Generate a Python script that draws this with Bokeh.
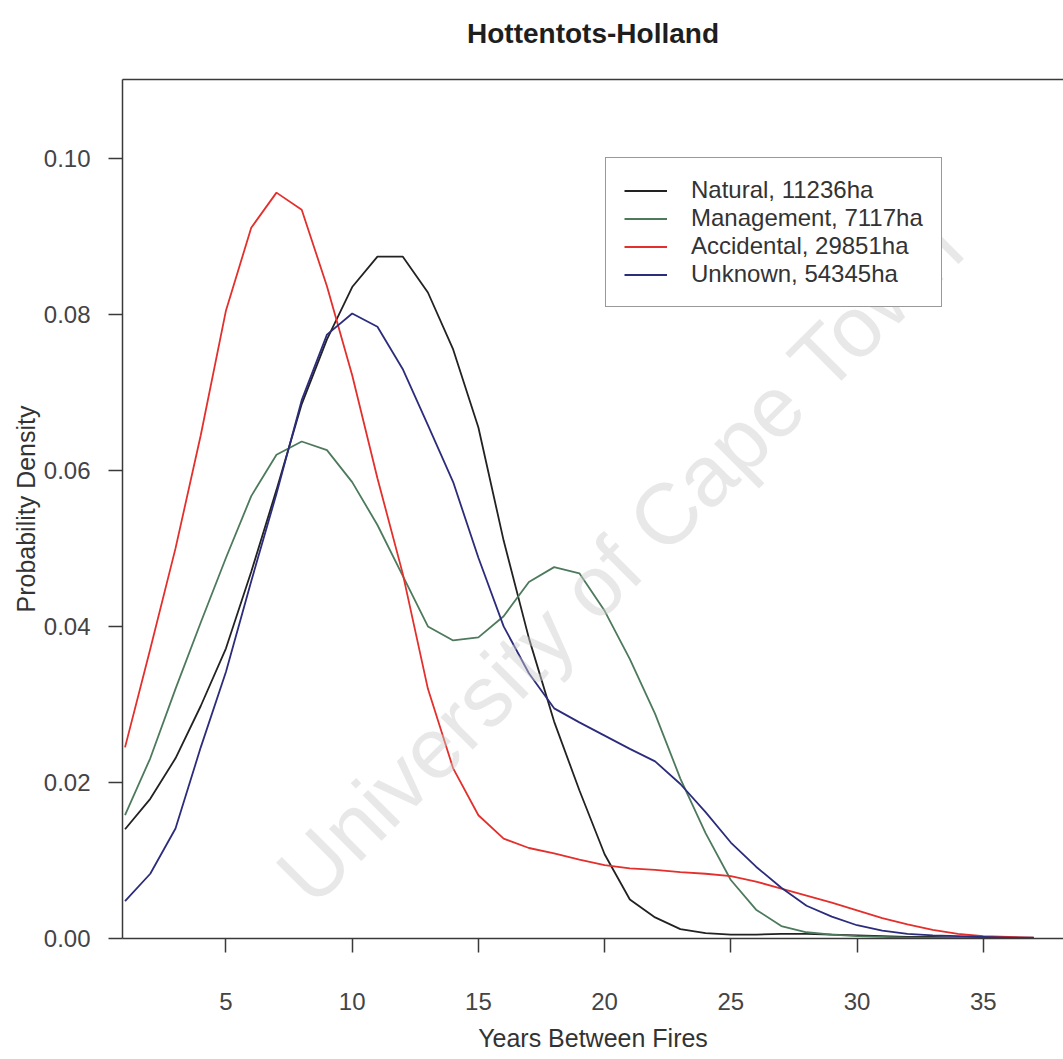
import math
from bokeh.plotting import figure
from bokeh.models import (Range1d, FixedTicker, PrintfTickFormatter, Legend,
                          LegendItem, LinearAxis, Label, Title)
from bokeh.embed import file_html
from bokeh.resources import INLINE

# ---------------- data ----------------
years = list(range(1, 38))

natural = [0.0140, 0.0179, 0.0231, 0.0298, 0.0372, 0.0470, 0.0575, 0.0685,
           0.0768, 0.0835, 0.0874, 0.0874, 0.0828, 0.0755, 0.0655, 0.0510,
           0.0385, 0.0278, 0.0190, 0.0108, 0.0050, 0.0027, 0.0012, 0.0007,
           0.0005, 0.0005, 0.0006, 0.0006, 0.0005, 0.0004, 0.0003, 0.0002,
           0.0002, 0.0001, 0.0001, 0.0000, 0.0000]

management = [0.0158, 0.0231, 0.0320, 0.0405, 0.0488, 0.0567, 0.0620, 0.0637,
              0.0626, 0.0585, 0.0530, 0.0465, 0.0400, 0.0382, 0.0386, 0.0413,
              0.0457, 0.0476, 0.0468, 0.0420, 0.0358, 0.0288, 0.0205, 0.0135,
              0.0075, 0.0037, 0.0016, 0.0008, 0.0005, 0.0003, 0.0002, 0.0001,
              0.0001, 0.0001, 0.0000, 0.0000, 0.0000]

accidental = [0.0245, 0.0371, 0.0500, 0.0645, 0.0805, 0.0911, 0.0956, 0.0934,
              0.0836, 0.0722, 0.0590, 0.0468, 0.0320, 0.0218, 0.0158, 0.0128,
              0.0116, 0.0109, 0.0101, 0.0094, 0.0090, 0.0088, 0.0085, 0.0083,
              0.0080, 0.0073, 0.0064, 0.0055, 0.0046, 0.0036, 0.0026, 0.0018,
              0.0011, 0.0006, 0.0003, 0.0002, 0.0001]

unknown = [0.0048, 0.0083, 0.0141, 0.0245, 0.0342, 0.0458, 0.0570, 0.0690,
           0.0774, 0.0801, 0.0784, 0.0730, 0.0658, 0.0585, 0.0488, 0.0400,
           0.0340, 0.0295, 0.0277, 0.0260, 0.0243, 0.0227, 0.0198, 0.0162,
           0.0123, 0.0092, 0.0065, 0.0042, 0.0028, 0.0017, 0.0010, 0.0006,
           0.0004, 0.0003, 0.0002, 0.0001, 0.0001]

series_labels = ["Natural, 11236ha", "Management, 7117ha",
                 "Accidental, 29851ha", "Unknown, 54345ha"]
series_colors = ["#222222", "#4d7a5c", "#e3302c", "#2c2c7c"]

x_ticks = [5, 10, 15, 20, 25, 30, 35]
y_ticks = [0.00, 0.02, 0.04, 0.06, 0.08, 0.10]

title_text = "Hottentots-Holland"
x_label = "Years Between Fires"
y_label = "Probability Density"
watermark = "University of Cape Town"

FONT = "Liberation Sans"

X0, X1 = 0.9, 38.18
Y0, Y1 = 0.0, 0.1101

# ---------------- figure ----------------
p = figure(width=1063, height=1059, output_backend="svg", toolbar_location=None,
           x_range=Range1d(X0, X1), y_range=Range1d(Y0, Y1),
           min_border_left=122, min_border_right=0, min_border_top=79,
           min_border_bottom=121, background_fill_color="white",
           border_fill_color="white")

p.xgrid.grid_line_color = None
p.ygrid.grid_line_color = None
p.outline_line_color = None

# title (outermost panel above the frame)
p.title.text = title_text
p.title.text_font = FONT
p.title.text_font_size = "28px"
p.title.text_font_style = "bold"
p.title.text_color = "#1e1e1e"
p.title.align = "center"
p.title.standoff = 28

# watermark (scan overlay), kept inside the plot frame
wm = Label(x=20.6, y=0.0485, text=watermark, angle=math.radians(45),
           text_font=FONT, text_font_size="86px", text_color="#cccccc",
           text_alpha=0.45, text_align="center", text_baseline="middle")
p.add_layout(wm)

# curves
series = [natural, management, accidental, unknown]
renderers = []
for vals, col in zip(series, series_colors):
    r = p.line(years, vals, line_color=col, line_width=1.8)
    renderers.append(r)

# axes
for ax in (p.xaxis[0], p.yaxis[0]):
    ax.axis_line_color = "#3a3a3a"
    ax.axis_line_width = 1.5
    ax.major_tick_line_color = "#3a3a3a"
    ax.major_tick_line_width = 1.5
    ax.major_tick_out = 14
    ax.major_tick_in = 0
    ax.minor_tick_line_color = None
    ax.major_label_text_font = FONT
    ax.major_label_text_font_size = "24px"
    ax.major_label_text_color = "#444444"
    ax.axis_label_text_font = FONT
    ax.axis_label_text_font_size = "25px"
    ax.axis_label_text_font_style = "normal"
    ax.axis_label_text_color = "#333333"

p.xaxis.ticker = FixedTicker(ticks=x_ticks)
p.xaxis.axis_label = x_label
p.xaxis.major_label_standoff = 40
p.xaxis.axis_label_standoff = 11

p.yaxis.ticker = FixedTicker(ticks=y_ticks)
p.yaxis.formatter = PrintfTickFormatter(format="%.2f")
p.yaxis.axis_label = y_label
p.yaxis.major_label_standoff = 18
p.yaxis.axis_label_standoff = 1

# top frame line (no right frame line, as in the reference)
top = LinearAxis(ticker=FixedTicker(ticks=[]), major_tick_line_color=None,
                 minor_tick_line_color=None, major_label_text_font_size="0px",
                 major_label_standoff=0, axis_line_color="#3a3a3a",
                 axis_line_width=1.5)
p.add_layout(top, "above")

# blank spacer between the frame and the title
spacer = Title(text=" ", text_font_size="8px", standoff=6)
p.add_layout(spacer, "above")

# legend
items = [LegendItem(label=lab, renderers=[r]) for lab, r in zip(series_labels, renderers)]
legend = Legend(items=items, location=(483, 631),
                border_line_color="#333333", border_line_width=1.2,
                background_fill_color="white", background_fill_alpha=1.0,
                label_text_font=FONT, label_text_font_size="24px",
                label_text_color="#333333", glyph_width=43, glyph_height=27,
                label_height=27, spacing=0, padding=18, margin=0,
                label_standoff=24)
p.add_layout(legend)

open("out.html", "w").write(file_html(p, INLINE))
